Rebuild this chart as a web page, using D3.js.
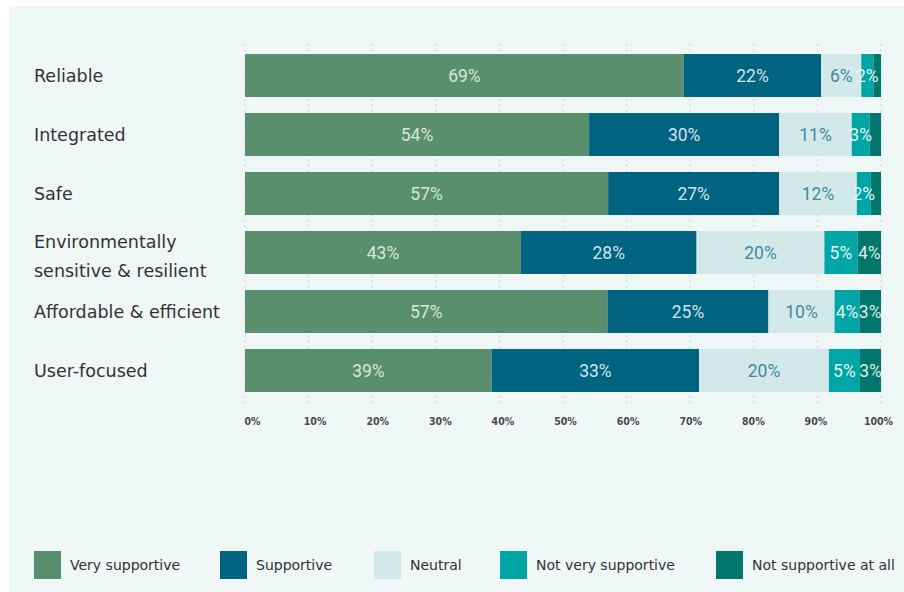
<!DOCTYPE html>
<html>
<head>
<meta charset="utf-8">
<script src="https://cdn.jsdelivr.net/npm/d3@7"></script>
<style>
  body { margin: 0; background: #fff; }
  svg { display: block; }
</style>
</head>
<body>
<div id="chart"></div>
<script>
// chart data
const categories = ["Reliable", "Integrated", "Safe", "Environmentally sensitive & resilient", "Affordable & efficient", "User-focused"];
const labelLines = [["Reliable"], ["Integrated"], ["Safe"], ["Environmentally", "sensitive & resilient"], ["Affordable & efficient"], ["User-focused"]];
const seriesNames = ["Very supportive", "Supportive", "Neutral", "Not very supportive", "Not supportive at all"];
const verySupportive = [69, 54.1, 57.1, 43.4, 57, 38.8];
const supportive = [21.6, 29.9, 26.9, 27.6, 25.3, 32.6];
const neutral = [6.3, 11.4, 12.2, 20.1, 10.4, 20.4];
const notVery = [1.9, 2.8, 2.2, 5.2, 3.9, 4.9];
const notAtAll = [1.2, 1.8, 1.6, 3.7, 3.4, 3.3];
const ticks = [0, 10, 20, 30, 40, 50, 60, 70, 80, 90, 100];

const colors = ["#5a8f6d", "#00637f", "#d3e9e9", "#00a6a6", "#00766c"];
const textColors = ["#d6e7dc", "#cfe3ec", "#3f8aa1", "#e2f5f5", "#d7ece8"];

const width = 904, height = 592;
const margin = { top: 44, left: 245, right: 23 };

const rows = categories.map((c, i) => ({
  cat: c,
  "Very supportive": verySupportive[i],
  "Supportive": supportive[i],
  "Neutral": neutral[i],
  "Not very supportive": notVery[i],
  "Not supportive at all": notAtAll[i]
}));
const stacked = d3.stack().keys(seriesNames)(rows);

const svg = d3.select("#chart").append("svg")
  .attr("width", width)
  .attr("height", height);

// panel background
svg.append("rect")
  .attr("x", 9).attr("y", 6)
  .attr("width", width - 9).attr("height", height - 6)
  .attr("fill", "#eff7f7");

const x = d3.scaleLinear().domain([0, 100]).range([margin.left, width - margin.right]);
const y = d3.scaleBand().domain(categories).range([46, 400]).paddingInner(0.271).paddingOuter(0.136);
// tick labels sit on a slightly narrower spread than the bars
const xLab = d3.scaleLinear().domain([0, 100]).range([252, 878]);

// dotted gridlines
svg.append("g").selectAll("line")
  .data(ticks)
  .join("line")
  .attr("x1", d => x(d)).attr("x2", d => x(d))
  .attr("y1", margin.top).attr("y2", 404)
  .attr("stroke", "#b9c9c9")
  .attr("stroke-width", 1)
  .attr("stroke-dasharray", "1.5,4");

// bars
const layers = svg.append("g").selectAll("g")
  .data(stacked)
  .join("g")
  .attr("fill", (d, i) => colors[i]);

layers.selectAll("rect")
  .data(d => d)
  .join("rect")
  .attr("x", d => x(d[0]))
  .attr("y", d => y(d.data.cat))
  .attr("width", d => x(d[1]) - x(d[0]))
  .attr("height", y.bandwidth());

// value labels
stacked.forEach((layer, li) => {
  svg.append("g").selectAll("text")
    .data(layer.filter(d => d[1] - d[0] >= 1.9))
    .join("text")
    .attr("x", d => (x(d[0]) + x(d[1])) / 2)
    .attr("y", d => y(d.data.cat) + y.bandwidth() / 2)
    .attr("dy", "0.36em")
    .attr("text-anchor", "middle")
    .attr("font-family", "Roboto, sans-serif")
    .attr("font-size", 17.5)
    .attr("fill", textColors[li])
    .text(d => Math.round(d[1] - d[0]) + "%");
});

// category labels
const catG = svg.append("g");
categories.forEach((c, i) => {
  const lines = labelLines[i];
  const cy = y(c) + y.bandwidth() / 2 + (lines.length > 1 ? 3.5 : 0);
  const t = catG.append("text")
    .attr("x", 34)
    .attr("font-family", "DejaVu Sans, sans-serif")
    .attr("font-size", 17.5)
    .attr("fill", "#333");
  lines.forEach((ln, j) => {
    t.append("tspan")
      .attr("x", 34)
      .attr("y", cy + (j - (lines.length - 1) / 2) * 29)
      .attr("dy", "0.36em")
      .text(ln);
  });
});

// x axis labels
const axis = svg.append("g")
  .attr("transform", "translate(0,406)")
  .call(d3.axisBottom(xLab).tickValues(ticks).tickFormat(d => d + "%").tickSize(0).tickPadding(12));
axis.select(".domain").remove();
axis.selectAll("text")
  .attr("font-family", "DejaVu Sans Condensed, DejaVu Sans, sans-serif")
  .attr("font-size", 10.5)
  .attr("font-weight", "bold")
  .attr("fill", "#4a4a4a");

// legend
const legendX = [34, 220, 374, 500, 716];
const legend = svg.append("g").selectAll("g")
  .data(seriesNames)
  .join("g")
  .attr("transform", (d, i) => `translate(${legendX[i]},551)`);
legend.append("rect")
  .attr("width", 27).attr("height", 28)
  .attr("fill", (d, i) => colors[i]);
legend.append("text")
  .attr("x", 36).attr("y", 14).attr("dy", "0.36em")
  .attr("font-family", "DejaVu Sans, sans-serif")
  .attr("font-size", 14)
  .attr("fill", "#333")
  .text(d => d);
</script>
</body>
</html>
